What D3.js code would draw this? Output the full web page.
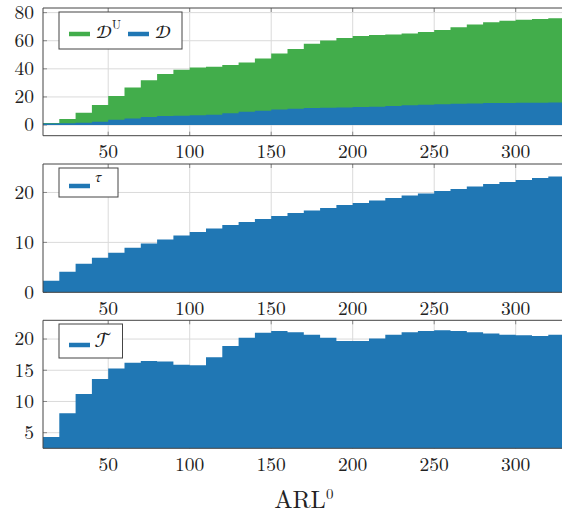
<!DOCTYPE html>
<html>
<head>
<meta charset="utf-8">
<script src="https://cdn.jsdelivr.net/npm/d3@7"></script>
<style>
html,body{margin:0;padding:0;background:#fff;}
svg{display:block;}
</style>
</head>
<body>
<svg id="chart" width="562" height="511"></svg>
<script>
// ---- data ----
const starts = [10,20,30,40,50,60,70,80,90,100,110,120,130,140,150,160,170,180,190,200,210,220,230,240,250,260,270,280,290,300,310,320];
const xEnd = 330;
const dUpper = [1.5,4.2,8.7,14.3,20.6,26.7,31.9,36.3,39.4,41.0,41.5,42.7,44.5,47.4,51.0,54.2,57.8,60.1,62.0,63.4,64.1,64.4,65.1,66.3,67.7,69.6,71.5,73.1,74.3,75.0,75.5,76.0];
const dLower = [1.0,1.2,1.7,2.4,3.8,4.7,5.7,6.4,6.6,6.9,7.3,8.3,9.5,10.2,11.1,11.6,12.1,12.3,12.5,12.8,13.0,13.5,14.0,14.4,14.7,15.1,15.4,15.6,15.6,15.9,15.9,16.1];
const tau = [2.3,4.1,5.7,6.9,7.9,8.9,9.8,10.6,11.4,12.1,12.8,13.5,14.1,14.7,15.3,15.9,16.4,16.9,17.5,17.9,18.4,18.9,19.4,19.8,20.3,20.7,21.2,21.7,22.1,22.5,22.9,23.2];
const bigT = [4.3,8.1,11.2,13.6,15.3,16.2,16.5,16.4,15.9,15.8,17.1,18.9,20.2,21.0,21.3,21.1,20.7,20.2,19.7,19.7,20.1,20.7,21.1,21.3,21.4,21.3,21.1,20.9,20.7,20.6,20.5,20.7];
const xTicks = [50,100,150,200,250,300];
const yTicks1 = [0,20,40,60,80];
const yTicks2 = [0,10,20];
const yTicks3 = [5,10,15,20];
const xLabel = "ARL";
const xLabelSup = "0";

const GREEN = "#42ad4b", BLUE = "#2077b4";
const SERIF = '"Latin Modern Roman", "Liberation Serif", monospace';
const MATH = '"STIX Two Math", "Latin Modern Roman", monospace';
const TICK_FS = 19.5;

const svg = d3.select("#chart");
const left = 43, right = 564.6;
const x = d3.scaleLinear().domain([10, xEnd]).range([left, right]);

const panels = [
  {top: 8, bottom: 135.7, domain: [-7.6, 83.3], ticks: yTicks1, base: 0,
   series: [{v: dUpper, c: GREEN}, {v: dLower, c: BLUE}],
   legend: {x: 59, y: 12, w: 123, h: 37}},
  {top: 164, bottom: 292.3, domain: [0, 25.7], ticks: yTicks2, base: 0,
   series: [{v: tau, c: BLUE}],
   legend: {x: 59, y: 168, w: 59, h: 29}},
  {top: 320.3, bottom: 448.3, domain: [2.5, 23.0], ticks: yTicks3, base: 2.5,
   series: [{v: bigT, c: BLUE}],
   legend: {x: 59, y: 324, w: 63.5, h: 34}}
];

panels.forEach((p, pi) => {
  const y = d3.scaleLinear().domain(p.domain).range([p.bottom, p.top]);
  const g = svg.append("g");
  g.selectAll(".gx").data(xTicks).join("line")
    .attr("x1", d => x(d)).attr("x2", d => x(d))
    .attr("y1", p.top).attr("y2", p.bottom)
    .attr("stroke", "#dadada").attr("stroke-width", 1);
  g.selectAll(".gy").data(p.ticks).join("line")
    .attr("x1", left).attr("x2", right)
    .attr("y1", d => y(d)).attr("y2", d => y(d))
    .attr("stroke", "#dadada").attr("stroke-width", 1);
  xTicks.forEach(t => {
    g.append("line").attr("x1", x(t)).attr("x2", x(t)).attr("y1", p.top).attr("y2", p.top + 4).attr("stroke", "#888");
    g.append("line").attr("x1", x(t)).attr("x2", x(t)).attr("y1", p.bottom).attr("y2", p.bottom - 4).attr("stroke", "#888");
  });
  p.ticks.forEach(t => {
    g.append("line").attr("x1", left).attr("x2", left + 4).attr("y1", y(t)).attr("y2", y(t)).attr("stroke", "#888");
  });
  p.series.forEach(s => {
    const pts = starts.map((st, i) => [st, s.v[i]]);
    pts.push([xEnd, s.v[s.v.length - 1]]);
    const area = d3.area()
      .x(d => x(d[0])).y0(y(p.base)).y1(d => y(d[1]))
      .curve(d3.curveStepAfter);
    g.append("path").datum(pts).attr("d", area).attr("fill", s.c);
  });
  g.append("path")
    .attr("d", `M${right},${p.top}H${left}V${p.bottom}H${right}`)
    .attr("fill", "none").attr("stroke", "#444").attr("stroke-width", 1);
  g.selectAll(".tx").data(xTicks).join("text")
    .attr("x", d => x(d)).attr("y", p.bottom + 22.5)
    .attr("text-anchor", "middle").attr("font-size", TICK_FS).style("font-family", SERIF).attr("fill", "#222")
    .text(d => d);
  g.selectAll(".ty").data(p.ticks).join("text")
    .attr("x", 34).attr("y", d => y(d) + 6.3)
    .attr("text-anchor", "end").attr("font-size", TICK_FS).style("font-family", SERIF).attr("fill", "#222")
    .text(d => d);
  const L = p.legend;
  g.append("rect").attr("x", L.x).attr("y", L.y).attr("width", L.w).attr("height", L.h)
    .attr("fill", "#fff").attr("stroke", "#444").attr("stroke-width", 1);
});

function legLine(x1, x2, yy, c) {
  svg.append("line").attr("x1", x1).attr("x2", x2).attr("y1", yy).attr("y2", yy)
    .attr("stroke", c).attr("stroke-width", 4.5);
}
legLine(69, 90, 34, GREEN);
const t1 = svg.append("text").attr("x", 96).attr("y", 38).attr("font-size", 19).attr("fill", "#222").style("font-family", MATH);
t1.append("tspan").text("\u{1D49F}");
t1.append("tspan").attr("font-size", 12).attr("dy", -9).style("font-family", SERIF).text("U");
legLine(128, 149, 34, BLUE);
svg.append("text").attr("x", 155).attr("y", 38).attr("font-size", 19).attr("fill", "#222").style("font-family", MATH).text("\u{1D49F}");

legLine(69, 90, 186, BLUE);
svg.append("text").attr("x", 95).attr("y", 182).attr("font-size", 15)
  .style("font-family", MATH).attr("fill", "#222").text("\u{1D70F}");

legLine(69, 90, 345, BLUE);
svg.append("text").attr("x", 95).attr("y", 347).attr("font-size", 20).attr("fill", "#222").style("font-family", MATH).text("\u{1D4AF}");

const xl = svg.append("text").attr("x", (left + right) / 2).attr("y", 507.5)
  .attr("text-anchor", "middle").attr("font-size", 24.5).style("font-family", SERIF).attr("fill", "#222");
xl.append("tspan").text(xLabel);
xl.append("tspan").attr("font-size", 15).attr("dy", -9).text(xLabelSup);
</script>
</body>
</html>
